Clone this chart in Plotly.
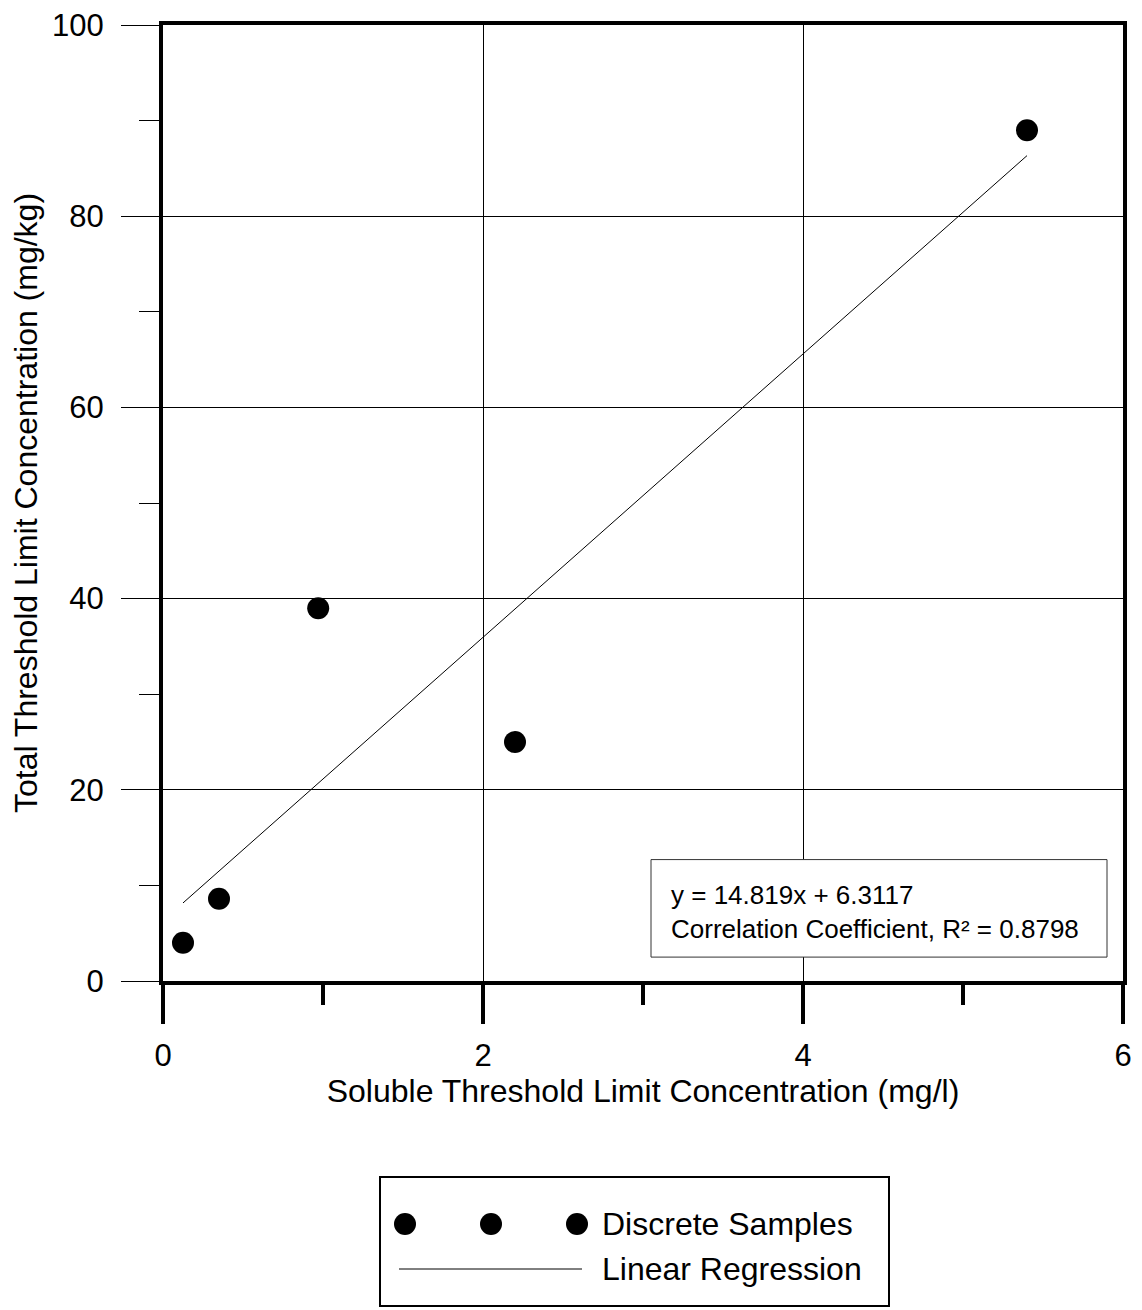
import plotly.graph_objects as go

# Data
stlc = [0.125, 0.35, 0.97, 2.2, 5.4]      # Soluble Threshold Limit Concentration (mg/l)
ttlc = [4.0, 8.6, 39.0, 25.0, 89.0]       # Total Threshold Limit Concentration (mg/kg)
slope = 14.819
intercept = 6.3117
r_squared = 0.8798
x_ticks = [0, 2, 4, 6]
y_ticks = [0, 20, 40, 60, 80, 100]

FONT = "Liberation Sans, Arial, sans-serif"

reg_x = [min(stlc), max(stlc)]
reg_y = [slope * v + intercept for v in reg_x]

fig = go.Figure()
fig.add_trace(go.Scatter(
    x=reg_x, y=reg_y, mode="lines", name="Linear Regression",
    line=dict(color="black", width=1), showlegend=False))
fig.add_trace(go.Scatter(
    x=stlc, y=ttlc, mode="markers", name="Discrete Samples",
    marker=dict(color="black", size=22), showlegend=False))

# Equation box
fig.add_shape(type="rect", xref="x", yref="y", x0=3.05, x1=5.9, y0=2.5, y1=12.7,
              line=dict(color="#333333", width=1), fillcolor="white", layer="above")
fig.add_annotation(
    xref="x", yref="y", x=3.16, y=7.2, xanchor="left", yanchor="middle",
    text=f"y = {slope}x + {intercept}<br>Correlation Coefficient, R\u00b2 = {r_squared}",
    showarrow=False, align="left", font=dict(family=FONT, size=26, color="black"))

# Custom legend (paper coordinates; plot area is 960 x 956 px)
PW, PH = 960.0, 956.0
fig.add_shape(type="rect", xref="paper", yref="paper",
              x0=(380 - 163) / PW, x1=(889 - 163) / PW,
              y0=(981 - 1306) / PH, y1=(981 - 1177) / PH,
              line=dict(color="black", width=2), fillcolor="white")
ry, rx = 11 / PH, 11 / PW
my = (981 - 1224) / PH
ly = (981 - 1269) / PH
for cx in [405, 491, 577]:
    px = (cx - 163) / PW
    fig.add_shape(type="circle", xref="paper", yref="paper",
                  x0=px - rx, x1=px + rx, y0=my - ry, y1=my + ry,
                  line=dict(color="black", width=0), fillcolor="black")
fig.add_shape(type="line", xref="paper", yref="paper",
              x0=(399 - 163) / PW, x1=(582 - 163) / PW, y0=ly, y1=ly,
              line=dict(color="black", width=1))
fig.add_annotation(xref="paper", yref="paper", x=(600 - 163) / PW, y=my, xanchor="left",
                   yanchor="middle", text="Discrete Samples", showarrow=False,
                   font=dict(family=FONT, size=32, color="black"))
fig.add_annotation(xref="paper", yref="paper", x=(600 - 163) / PW, y=ly, xanchor="left",
                   yanchor="middle", text="Linear Regression", showarrow=False,
                   font=dict(family=FONT, size=32, color="black"))

fig.update_xaxes(
    range=[0, 6], tickvals=x_ticks, ticktext=[str(v) for v in x_ticks],
    ticks="outside", ticklen=39, tickwidth=4, tickcolor="black",
    minor=dict(dtick=1, ticks="outside", ticklen=20, tickwidth=4, tickcolor="black", showgrid=False),
    showgrid=True, gridcolor="black", gridwidth=1, zeroline=False,
    showline=True, linewidth=4, linecolor="black", mirror=True,
    ticklabelstandoff=5, ticklabeloverflow="allow",
    tickfont=dict(family=FONT, size=31, color="black"),
    title=dict(text="Soluble Threshold Limit Concentration (mg/l)",
               font=dict(family=FONT, size=32, color="black"), standoff=2),
)
fig.update_yaxes(
    range=[0, 100], tickvals=y_ticks, ticktext=[str(v) for v in y_ticks],
    ticks="outside", ticklen=38, tickwidth=1, tickcolor="black",
    minor=dict(dtick=10, ticks="outside", ticklen=20, tickwidth=1, tickcolor="black", showgrid=False),
    showgrid=True, gridcolor="black", gridwidth=1, zeroline=False,
    showline=True, linewidth=4, linecolor="black", mirror=True,
    ticklabelstandoff=11, ticklabeloverflow="allow",
    tickfont=dict(family=FONT, size=31, color="black"),
    title=dict(text="Total Threshold Limit Concentration (mg/kg)",
               font=dict(family=FONT, size=32, color="black"), standoff=9),
)

fig.update_layout(
    width=1134, height=1302,
    margin=dict(l=155, r=19, t=17, b=329, autoexpand=False),
    plot_bgcolor="white", paper_bgcolor="white",
    showlegend=False,
    font=dict(family=FONT, color="black"),
)

fig.write_html("out.html")
